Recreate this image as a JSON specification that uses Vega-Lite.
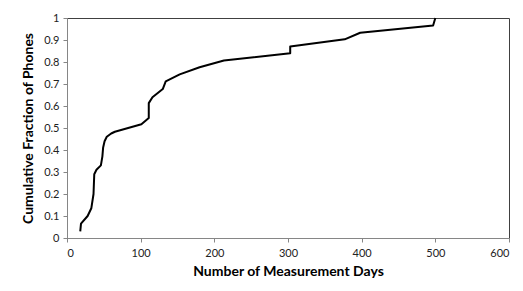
{
  "$schema": "https://vega.github.io/schema/vega-lite/v6.json",
  "width": 442,
  "height": 220,
  "autosize": {"type": "none"},
  "padding": {"left": 67, "top": 18, "right": 14, "bottom": 53},
  "background": "white",
  "config": {
    "view": {"stroke": "#404040", "strokeWidth": 1},
    "font": "Lato"
  },
  "data": {
    "values": [
      {"i": 1, "days": 18, "frac": 0.03},
      {"i": 2, "days": 19, "frac": 0.065},
      {"i": 3, "days": 28, "frac": 0.1},
      {"i": 4, "days": 33, "frac": 0.135},
      {"i": 5, "days": 36, "frac": 0.2},
      {"i": 6, "days": 37, "frac": 0.29},
      {"i": 7, "days": 40, "frac": 0.31},
      {"i": 8, "days": 46, "frac": 0.33},
      {"i": 9, "days": 48, "frac": 0.37},
      {"i": 10, "days": 49, "frac": 0.41},
      {"i": 11, "days": 51, "frac": 0.44},
      {"i": 12, "days": 54, "frac": 0.46},
      {"i": 13, "days": 60, "frac": 0.475},
      {"i": 14, "days": 65, "frac": 0.483},
      {"i": 15, "days": 101, "frac": 0.517},
      {"i": 16, "days": 111, "frac": 0.545},
      {"i": 17, "days": 111, "frac": 0.613},
      {"i": 18, "days": 116, "frac": 0.64},
      {"i": 19, "days": 130, "frac": 0.677},
      {"i": 20, "days": 134, "frac": 0.712},
      {"i": 21, "days": 153, "frac": 0.744},
      {"i": 22, "days": 180, "frac": 0.776},
      {"i": 23, "days": 213, "frac": 0.807},
      {"i": 24, "days": 303, "frac": 0.84},
      {"i": 25, "days": 303, "frac": 0.87},
      {"i": 26, "days": 377, "frac": 0.903},
      {"i": 27, "days": 398, "frac": 0.933},
      {"i": 28, "days": 497, "frac": 0.966},
      {"i": 29, "days": 500, "frac": 1.0}
    ]
  },
  "mark": {"type": "line", "color": "black", "strokeWidth": 2, "strokeJoin": "round"},
  "encoding": {
    "x": {
      "field": "days", "type": "quantitative",
      "scale": {"domain": [0, 600], "nice": false, "zero": true},
      "axis": {
        "title": "Number of Measurement Days",
        "values": [0, 100, 200, 300, 400, 500, 600],
        "grid": false,
        "domainColor": "#868686", "tickColor": "#868686", "tickSize": 4,
        "labelFont": "Lato", "labelFontSize": 11, "labelColor": "#222222", "labelPadding": 5,
        "titleFont": "Lato", "titleFontSize": 14, "titleFontWeight": "bold", "titleColor": "#000000", "titlePadding": 6
      }
    },
    "y": {
      "field": "frac", "type": "quantitative",
      "scale": {"domain": [0, 1], "nice": false},
      "axis": {
        "title": "Cumulative Fraction of Phones",
        "values": [0, 0.1, 0.2, 0.3, 0.4, 0.5, 0.6, 0.7, 0.8, 0.9, 1],
        "format": ".1~f",
        "grid": false,
        "domainColor": "#868686", "tickColor": "#868686", "tickSize": 4,
        "labelFont": "Lato", "labelFontSize": 11, "labelColor": "#222222", "labelPadding": 4,
        "titleFont": "Lato", "titleFontSize": 14, "titleFontWeight": "bold", "titleColor": "#000000", "titlePadding": 8
      }
    },
    "order": {"field": "i", "type": "quantitative"}
  }
}
